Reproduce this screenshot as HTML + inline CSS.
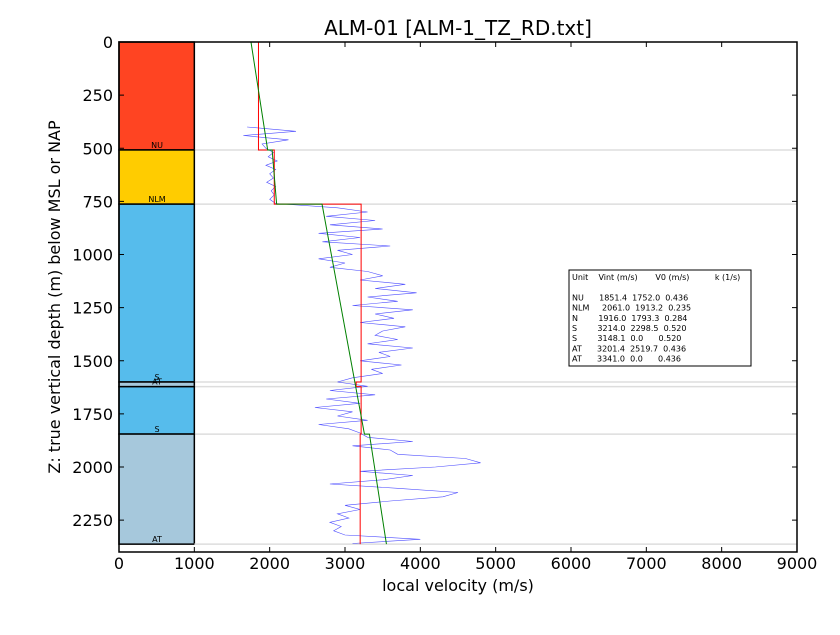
<!DOCTYPE html>
<html><head><meta charset="utf-8"><style>body{margin:0;background:#fff}svg{font-family:"DejaVu Sans","Liberation Sans",sans-serif}</style></head>
<body>
<svg id="c" width="840" height="630" viewBox="0 0 840 630"></svg>
<script>
const layerNames=["NU","NLM","S","AT","S","AT"];
const layerTops=[0,508,763,1600,1622,1845];
const layerBottoms=[508,763,1600,1622,1845,2363];
const layerColors=["#ff4422","#ffcc00","#56bcec","#a6c8dc","#56bcec","#a6c8dc"];
const vint=[1851.4,2061.0,3214.0,3148.1,3214.0,3201.4];
const v0=[1752.0,1913.2,2298.5,2298.5,2298.5,2519.7];
const kval=[0.436,0.235,0.520,0.520,0.520,0.436];
const traceStart=400, traceStep=20;
const traceV=[1700,2350,1650,2250,1900,
1950,2050,1980,2100,1950,2080,2000,2050,1960,2080,2020,2060,2000,2080,
2900,3300,2750,3400,2800,3500,2650,3200,2700,3600,2900,3100,2650,3000,2800,3300,
3500,3200,3800,3400,3950,3300,3700,3100,3900,3400,3650,3200,3800,3500,3400,3700,3300,3900,3450,3600,3200,3750,3350,3500,3100,
2900,3300,2800,3400,2750,3200,2600,3100,2900,3300,2650,3050,3200,
3300,3900,3100,3600,3700,4600,4800,4200,3200,3900,3500,2800,3700,4500,4300,3600,3000,3200,2900,3050,2800,2950,2850,3000,4000,3100];
const xTicks=[0,1000,2000,3000,4000,5000,6000,7000,8000,9000];
const yTicks=[0,250,500,750,1000,1250,1500,1750,2000,2250];
const tableRows=["Unit    Vint (m/s)       V0 (m/s)          k (1/s)","","NU      1851.4  1752.0  0.436","NLM     2061.0  1913.2  0.235","N        1916.0  1793.3  0.284","S        3214.0  2298.5  0.520","S        3148.1  0.0      0.520","AT      3201.4  2519.7  0.436","AT      3341.0  0.0      0.436"];

const X0=119,X1=797,Y0=42,Y1=552;
const sx=v=>X0+(X1-X0)*v/9000, sy=z=>Y0+(Y1-Y0)*z/2400;
const svg=document.getElementById('c');const NS='http://www.w3.org/2000/svg';
function mk(t,a,p){const e=document.createElementNS(NS,t);for(const k in a)e.setAttribute(k,a[k]);(p||svg).appendChild(e);return e;}

let e=mk('text',{x:458,y:35,'text-anchor':'middle','font-size':20});e.textContent='ALM-01 [ALM-1_TZ_RD.txt]';



layerNames.forEach((n,i)=>{
 let r=mk('rect',{x:sx(0),y:sy(layerTops[i]),width:sx(1000)-sx(0),height:sy(layerBottoms[i])-sy(layerTops[i]),fill:layerColors[i],stroke:'#000','stroke-width':1.5});
 
 
 let t=mk('text',{x:157,y:sy(layerBottoms[i])-2,'text-anchor':'middle','font-size':8});t.textContent=n;
 
 
 let g=mk('line',{x1:sx(1000),x2:X1,y1:sy(layerBottoms[i]),y2:sy(layerBottoms[i]),stroke:'#ddd','stroke-width':1.5});
 
 
});

// trace
let pts=traceV.map((v,i)=>sx(v).toFixed(1)+','+sy(traceStart+i*traceStep).toFixed(1)).join(' ');
e=mk('polyline',{points:pts,fill:'none',stroke:'#0000ff','stroke-width':0.6,'stroke-opacity':0.7});



// red interval velocities
let rp=[];vint.forEach((v,i)=>{rp.push(sx(v)+','+sy(layerTops[i]));rp.push(sx(v)+','+sy(layerBottoms[i]));});
e=mk('polyline',{points:rp.join(' '),fill:'none',stroke:'#ff0000','stroke-width':1});



// green linear model
let gp=[];v0.forEach((v,i)=>{gp.push(sx(v+kval[i]*layerTops[i])+','+sy(layerTops[i]));gp.push(sx(v+kval[i]*layerBottoms[i])+','+sy(layerBottoms[i]));});
e=mk('polyline',{points:gp.join(' '),fill:'none',stroke:'#008000','stroke-width':1});



// axes box
e=mk('rect',{x:X0,y:Y0,width:X1-X0,height:Y1-Y0,fill:'none',stroke:'#000','stroke-width':1.5});


xTicks.forEach(v=>{
 mk('line',{x1:sx(v),x2:sx(v),y1:Y1,y2:Y1-5,stroke:'#000'});mk('line',{x1:sx(v),x2:sx(v),y1:Y0,y2:Y0+5,stroke:'#000'});
 let t=mk('text',{x:sx(v),y:569,'text-anchor':'middle','font-size':16});t.textContent=v;
 
 
});
yTicks.forEach(v=>{
 mk('line',{x1:X0,x2:X0+5,y1:sy(v),y2:sy(v),stroke:'#000'});mk('line',{x1:X1,x2:X1-5,y1:sy(v),y2:sy(v),stroke:'#000'});
 let t=mk('text',{x:X0-6,y:sy(v)+6,'text-anchor':'end','font-size':16});t.textContent=v;
 
 
});
e=mk('text',{x:458,y:591,'text-anchor':'middle','font-size':16});e.textContent='local velocity (m/s)';


e=mk('text',{x:0,y:0,'text-anchor':'middle','font-size':16,transform:'translate(60,297) rotate(-90)'});e.textContent='Z: true vertical depth (m) below MSL or NAP';



// table
e=mk('rect',{x:569,y:270,width:182,height:96,fill:'#fff',stroke:'#000','stroke-width':1});


tableRows.forEach((r,i)=>{let t=mk('text',{x:572,y:280+i*10.2,'font-size':8,'xml:space':'preserve'});t.style.whiteSpace='pre';t.textContent=r;
 
 });
</script>
</body></html>
